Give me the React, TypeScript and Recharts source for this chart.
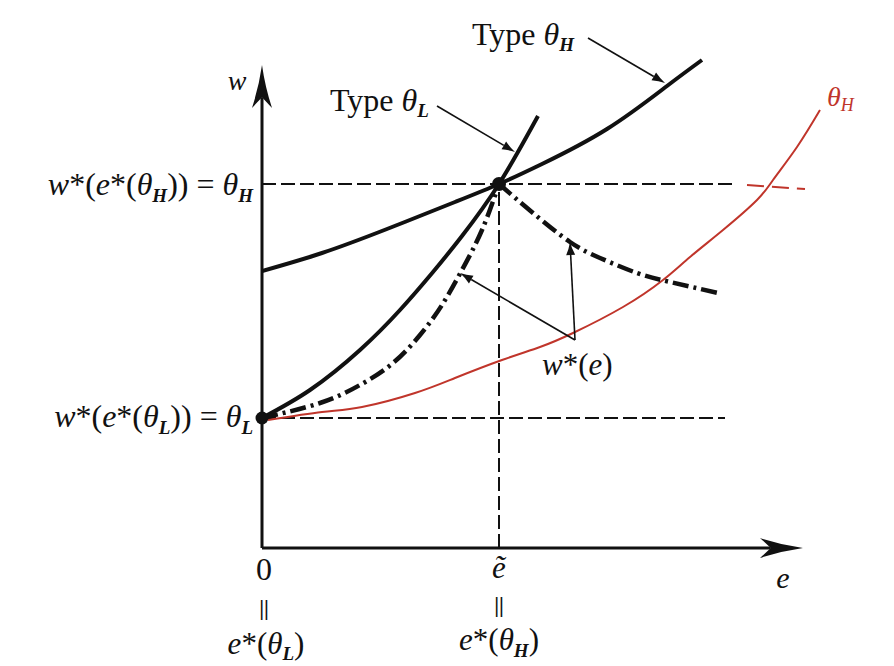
import { ComposedChart, Line, XAxis, YAxis, ReferenceLine, ReferenceDot } from "recharts";

const FONT = "'Liberation Serif', 'Times New Roman', serif";
const INK = "#111";
const RED = "#c0352b";

// key levels (arbitrary units, e: effort, w: wage)
const E_TILDE = 47.4;
const THETA_L = 26;
const THETA_H = 72.8;
const E_AXIS_END = 108.2;
const W_AXIS_END = 96.6;

// indifference curve, type θL
const typeLE = [0, 9.6, 19.6, 27.6, 34.2, 40, 47.4, 55.2];
const typeLW = [26, 31.6, 39.6, 47.6, 55.2, 62.4, 72.8, 86.4];

// indifference curve, type θH
const typeHE = [0, 12, 25, 38.6, 47.4, 56, 69, 81, 88];
const typeHW = [55.4, 59, 63.8, 69.2, 72.8, 76.8, 83.8, 92.4, 97.6];

// w*(e) wage schedule, two branches
const wLowE = [0, 11.6, 19.6, 26.2, 31.6, 36, 40, 44, 47.4];
const wLowW = [26, 29, 32.6, 37, 42.6, 48.6, 55.6, 63.6, 72.8];
const wHighE = [47.4, 54.2, 61.6, 67.6, 75, 81.6, 91.2];
const wHighW = [72.8, 67, 61.2, 58, 55, 53.2, 51];

// hand-drawn red θH curve
const redE = [1.2, 12, 20, 30.6, 38.6, 48, 55.6, 62.2, 72.2, 80.2, 85.6, 92.2, 99, 102.2, 107, 111.6];
const redW = [25.6, 27.2, 28.2, 31, 34, 37.6, 40.2, 43, 48.2, 53.6, 58.2, 63.6, 69.6, 73.6, 80.2, 87.6];
const redDashE = [97, 108.6];
const redDashW = [72.6, 71.8];

// annotation arrows [fromE, fromW, toE, toW]
const arrows = [
  [65.2, 102, 80.6, 93],
  [35, 88.4, 50.6, 79.2],
  [62.6, 41.6, 39.6, 55],
  [62.6, 41.6, 61.6, 61.2],
];

const zip = (es: number[], ws: number[]) => es.map((e, i) => ({ e, w: ws[i] }));

const arrowShape = (len: number, half: number, sw: number, notch: number) => (p: any) => {
  const { x1, y1, x2, y2 } = p;
  const dx = x2 - x1;
  const dy = y2 - y1;
  const d = Math.hypot(dx, dy) || 1;
  const ux = dx / d, uy = dy / d, nx = -uy, ny = ux;
  const pt = (k: number, s: number) => `${x2 - ux * len * k + nx * half * s} ${y2 - uy * len * k + ny * half * s}`;
  const head = `M ${x2} ${y2} Q ${pt(0.5, 0.3)} ${pt(1, 1)} L ${pt(notch, 0)} L ${pt(1, -1)} Q ${pt(0.5, -0.3)} ${x2} ${y2} Z`;
  const mx = x2 - ux * len * notch;
  const my = y2 - uy * len * notch;
  return (
    <g>
      <line x1={x1} y1={y1} x2={mx} y2={my} stroke={INK} strokeWidth={sw} />
      <path d={head} fill={INK} />
    </g>
  );
};

const it = { fontStyle: "italic" as const };
const subH = (s: string, size: number, dy: number) => (
  <tspan fontStyle="italic" fontWeight={700} fontSize={size} dy={dy}>{s}</tspan>
);

type Lbl = { e: number; w: number; anchor?: string; size: number; color?: string; bold?: boolean; body: any };

const labels: Lbl[] = [
  { e: -5, w: 91.6, anchor: "middle", size: 28, body: <tspan {...it}>w</tspan> },
  { e: 104.2, w: -8, anchor: "middle", size: 30, body: <tspan {...it}>e</tspan> },
  { e: 42, w: 100.6, anchor: "start", size: 32, body: <>Type <tspan {...it}>θ</tspan>{subH("H", 19, 6)}</> },
  { e: 13.6, w: 87.4, anchor: "start", size: 32, body: <>Type <tspan {...it}>θ</tspan>{subH("L", 19, 6)}</> },
  {
    e: -1.8, w: 70.6, anchor: "end", size: 32,
    body: <><tspan {...it}>w</tspan>*(<tspan {...it}>e</tspan>*(<tspan {...it}>θ</tspan>{subH("H", 19, 7)}<tspan dy={-7}>)) = </tspan><tspan {...it}>θ</tspan>{subH("H", 19, 7)}</>,
  },
  {
    e: -1.8, w: 24.2, anchor: "end", size: 32,
    body: <><tspan {...it}>w</tspan>*(<tspan {...it}>e</tspan>*(<tspan {...it}>θ</tspan>{subH("L", 19, 7)}<tspan dy={-7}>)) = </tspan><tspan {...it}>θ</tspan>{subH("L", 19, 7)}</>,
  },
  { e: 56, w: 34.6, anchor: "start", size: 31, body: <><tspan {...it}>w</tspan>*(<tspan {...it}>e</tspan>)</> },
  { e: 0.4, w: -6.4, anchor: "middle", size: 32, body: "0" },
  { e: 0.4, w: -13.4, anchor: "middle", size: 22, bold: true, body: "||" },
  { e: 0.8, w: -21.2, anchor: "middle", size: 31, body: <><tspan {...it}>e</tspan>*(<tspan {...it}>θ</tspan>{subH("L", 19, 6)}<tspan dy={-6}>)</tspan></> },
  { e: E_TILDE, w: -6, anchor: "middle", size: 31, body: <tspan {...it}>ẽ</tspan> },
  { e: E_TILDE, w: -12.8, anchor: "middle", size: 22, bold: true, body: "||" },
  { e: E_TILDE, w: -20.4, anchor: "middle", size: 31, body: <><tspan {...it}>e</tspan>*(<tspan {...it}>θ</tspan>{subH("H", 19, 7)}<tspan dy={-7}>)</tspan></> },
  { e: 113, w: 88.4, anchor: "start", size: 28, color: RED, body: <><tspan {...it}>θ</tspan><tspan {...it} fontSize={18} dy={5}>H</tspan></> },
];

export default function App() {
  return (
    <div style={{ position: "absolute", left: 0, top: 0, background: "#fff" }}>
      <ComposedChart width={894} height={666} margin={{ top: 18, right: 32, bottom: 118, left: 262 }}>
        <XAxis type="number" dataKey="e" domain={[0, 120]} hide allowDataOverflow />
        <YAxis type="number" dataKey="w" domain={[0, 106]} hide allowDataOverflow />

        {/* dashed guides */}
        <ReferenceLine segment={[{ x: 0, y: THETA_H }, { x: 95, y: THETA_H }]} stroke={INK} strokeWidth={2} strokeDasharray="14 5" ifOverflow="visible" />
        <ReferenceLine segment={[{ x: 0, y: THETA_L }, { x: 92.6, y: THETA_L }]} stroke={INK} strokeWidth={2} strokeDasharray="14 5" ifOverflow="visible" />
        <ReferenceLine segment={[{ x: E_TILDE, y: 0 }, { x: E_TILDE, y: THETA_H }]} stroke={INK} strokeWidth={2} strokeDasharray="14 5" ifOverflow="visible" />

        {/* axes with arrowheads */}
        <ReferenceLine segment={[{ x: 0, y: 0 }, { x: E_AXIS_END, y: 0 }]} ifOverflow="visible" shape={arrowShape(43, 10, 3, 0.75)} />
        <ReferenceLine segment={[{ x: 0, y: 0 }, { x: 0, y: W_AXIS_END }]} ifOverflow="visible" shape={arrowShape(43, 10, 3, 0.75)} />

        <Line data={zip(redE, redW)} dataKey="w" type="natural" stroke={RED} strokeWidth={2} dot={false} isAnimationActive={false} />
        <Line data={zip(redDashE, redDashW)} dataKey="w" type="linear" stroke={RED} strokeWidth={2} strokeDasharray="17 8" dot={false} isAnimationActive={false} />

        <Line data={zip(typeHE, typeHW)} dataKey="w" type="natural" stroke={INK} strokeWidth={4} dot={false} isAnimationActive={false} />
        <Line data={zip(typeLE, typeLW)} dataKey="w" type="natural" stroke={INK} strokeWidth={4} dot={false} isAnimationActive={false} />
        <Line data={zip(wLowE, wLowW)} dataKey="w" type="natural" stroke={INK} strokeWidth={4.5} strokeDasharray="16 5 3 5" dot={false} isAnimationActive={false} />
        <Line data={zip(wHighE, wHighW)} dataKey="w" type="natural" stroke={INK} strokeWidth={4.5} strokeDasharray="16 5 3 5" dot={false} isAnimationActive={false} />

        {arrows.map(([e1, w1, e2, w2], i) => (
          <ReferenceLine key={`a${i}`} segment={[{ x: e1, y: w1 }, { x: e2, y: w2 }]} ifOverflow="visible" shape={arrowShape(13, 4.5, 1.6, 1)} />
        ))}

        <ReferenceDot x={0} y={THETA_L} r={6.5} fill={INK} stroke="none" ifOverflow="visible" />
        <ReferenceDot x={E_TILDE} y={THETA_H} r={7} fill={INK} stroke="none" ifOverflow="visible" />

        {labels.map((l, i) => (
          <ReferenceDot
            key={`t${i}`}
            x={l.e}
            y={l.w}
            r={1}
            ifOverflow="visible"
            shape={(p: any) => (
              <text x={p.cx} y={p.cy} textAnchor={l.anchor} fontFamily={FONT} fontSize={l.size} fontWeight={l.bold ? 700 : 400} fill={l.color || INK}>
                {l.body}
              </text>
            )}
          />
        ))}
      </ComposedChart>
    </div>
  );
}
